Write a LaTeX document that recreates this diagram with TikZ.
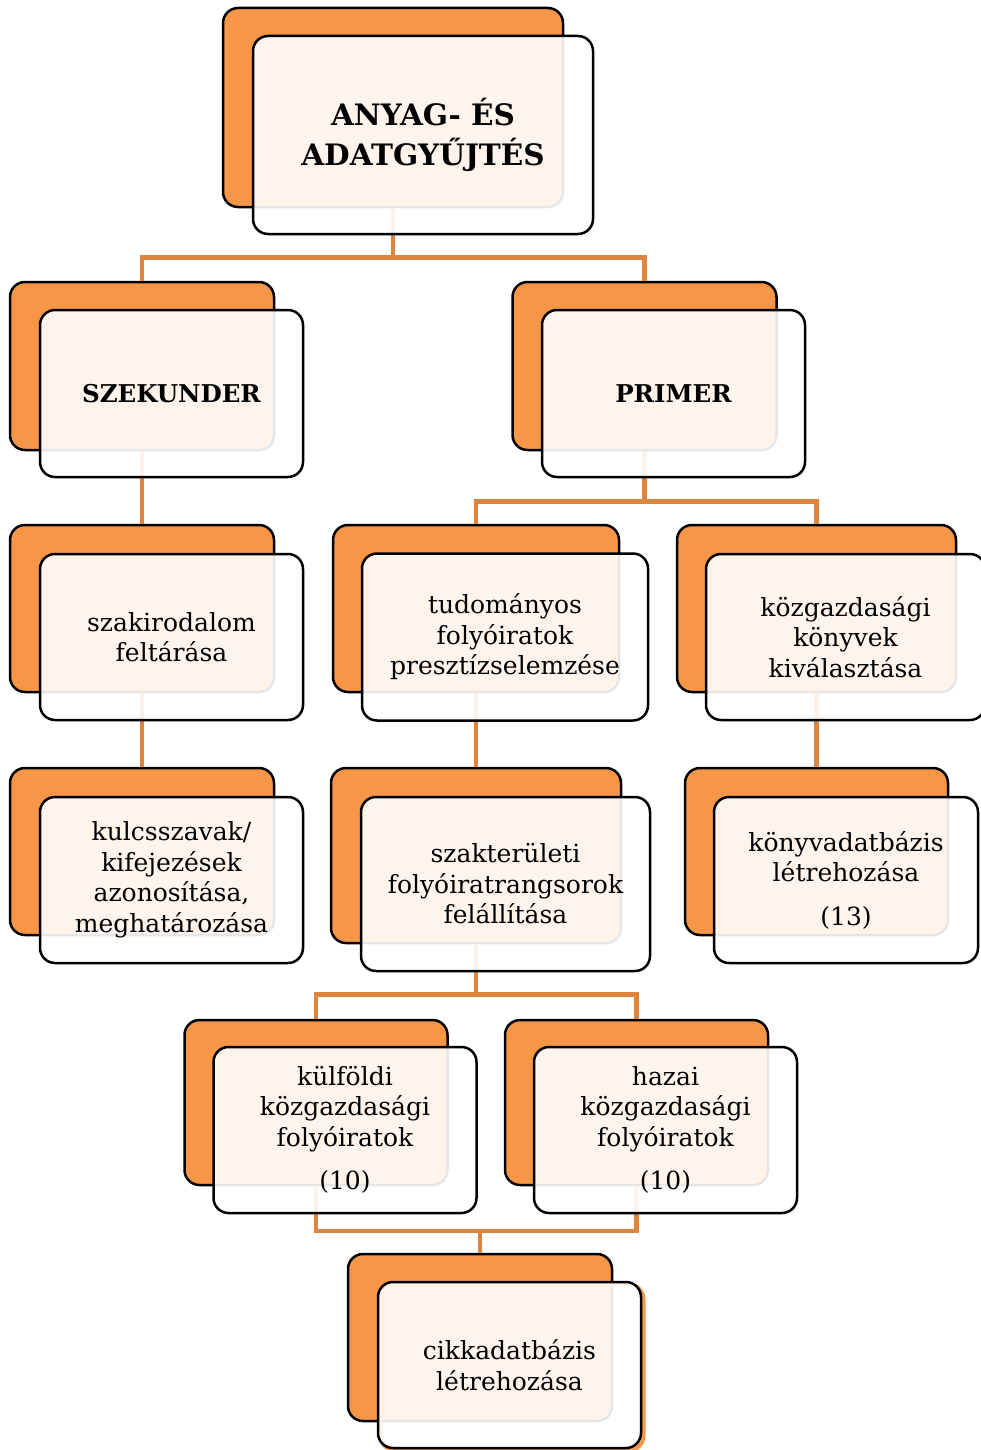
\documentclass[tikz,border=0pt]{standalone}
\usepackage{fontspec}
\setmainfont{DejaVu Serif}
\usetikzlibrary{calc}
\definecolor{tileorange}{HTML}{F79646}
\definecolor{linkorange}{HTML}{DD843F}

\begin{document}
\begin{tikzpicture}[
	x=1pt, y=-1pt,
	tile/.style 2 args={minimum width=#1pt, minimum height=#2pt},
	back/.style={rectangle, rounded corners=15pt, draw=black, line width=2.5pt, fill=tileorange, inner sep=0pt},
	front/.style={rectangle, rounded corners=15pt, draw=black, line width=2.5pt, fill=white, fill opacity=0.9, text opacity=1, inner sep=4pt, align=center, font=\fontsize{25}{30.5}\selectfont},
	head/.style={front, font=\fontsize{24.5}{32}\selectfont\bfseries},
	title/.style={front, font=\fontsize{29.5}{40}\selectfont\bfseries},
	link/.style={draw=linkorange, line width=4.5pt},
	rim/.style={rectangle, rounded corners=15pt, draw=tileorange, line width=4pt}
	]
	\useasboundingbox (0,0) rectangle (980,1450);
	
	\node[back, tile={340}{199}] (top-b) at (393,107.5) {};
	\node[back, tile={264}{168}] (szek-b) at (142,366) {};
	\node[back, tile={264}{168}] (prim-b) at (644.5,366) {};
	\node[back, tile={264}{167}] (irod-b) at (142,608.5) {};
	\node[back, tile={286}{167}] (tud-b) at (476,608.5) {};
	\node[back, tile={279}{167}] (konyv-b) at (816.5,608.5) {};
	\node[back, tile={264}{167}] (kulcs-b) at (142,851.5) {};
	\node[back, tile={290}{175}] (rang-b) at (476,855.5) {};
	\node[back, tile={263}{167}] (kdb-b) at (816.5,851.5) {};
	\node[back, tile={263}{165}] (kulf-b) at (316,1102.5) {};
	\node[back, tile={263}{165}] (haz-b) at (636.5,1102.5) {};
	\node[back, tile={264}{167}] (cikk-b) at (480,1337.5) {};
	
	\draw[link] (top-b.south) |- ($(top-b.south)!.68!(szek-b.north)$) -| (szek-b.north);
	\draw[link] (top-b.south) |- ($(top-b.south)!.68!(prim-b.north)$) -| (prim-b.north);
	\draw[link] (szek-b.south) -- (irod-b.north);
	\draw[link] (prim-b.south) |- ($(prim-b.south)!.69!(tud-b.north)$) -| (tud-b.north);
	\draw[link] (prim-b.south) |- ($(prim-b.south)!.69!(konyv-b.north)$) -| (konyv-b.north);
	\draw[link] (irod-b.south) -- (kulcs-b.north);
	\draw[link] (tud-b.south) -- (rang-b.north);
	\draw[link] (konyv-b.south) -- (kdb-b.north);
	\draw[link] (rang-b.south) |- ($(rang-b.south)!.675!(kulf-b.north)$) -| (kulf-b.north);
	\draw[link] (rang-b.south) |- ($(rang-b.south)!.675!(haz-b.north)$) -| (haz-b.north);
	\draw[link] (kulf-b.south) |- ($(kulf-b.south)!.67!(cikk-b.north)$) -| (cikk-b.north);
	\draw[link] (haz-b.south) |- ($(haz-b.south)!.67!(cikk-b.north)$) -| (cikk-b.north);
	
	\node[rim, tile={263}{166}] (cikk-r) at (512,1367.5) {};
	
	\node[title, tile={340}{198}] (top) at (423,135) {ANYAG- ÉS\\ADATGYŰJTÉS};
	\node[head, tile={263}{167}] (szek) at (171.5,393.5) {SZEKUNDER};
	\node[head, tile={263}{167}] (prim) at (673.5,393.5) {PRIMER};
	\node[front, tile={263}{166}] (irod) at (171.5,637) {szakirodalom\\feltárása};
	\node[front, tile={286}{167}] (tud) at (505,637) {tudományos\\folyóiratok\\presztízselemzése};
	\node[front, tile={279}{166}] (konyv) at (845.5,637) {közgazdasági\\könyvek\\kiválasztása};
	\node[front, tile={263}{166}] (kulcs) at (171.5,880) {kulcsszavak/\\kifejezések\\azonosítása,\\meghatározása};
	\node[front, tile={289}{174}] (rang) at (505.5,884) {szakterületi\\folyóiratrangsorok\\felállítása};
	\node[front, tile={264}{166}] (kdb) at (846,880) {könyvadatbázis\\létrehozása\\[13pt](13)};
	\node[front, tile={263}{166}] (kulf) at (345,1130) {külföldi\\közgazdasági\\folyóiratok\\[13pt](10)};
	\node[front, tile={263}{166}] (haz) at (665.5,1130) {hazai\\közgazdasági\\folyóiratok\\[13pt](10)};
	\node[front, tile={263}{166}] (cikk) at (509.5,1365) {cikkadatbázis\\létrehozása};
\end{tikzpicture}
\end{document}
